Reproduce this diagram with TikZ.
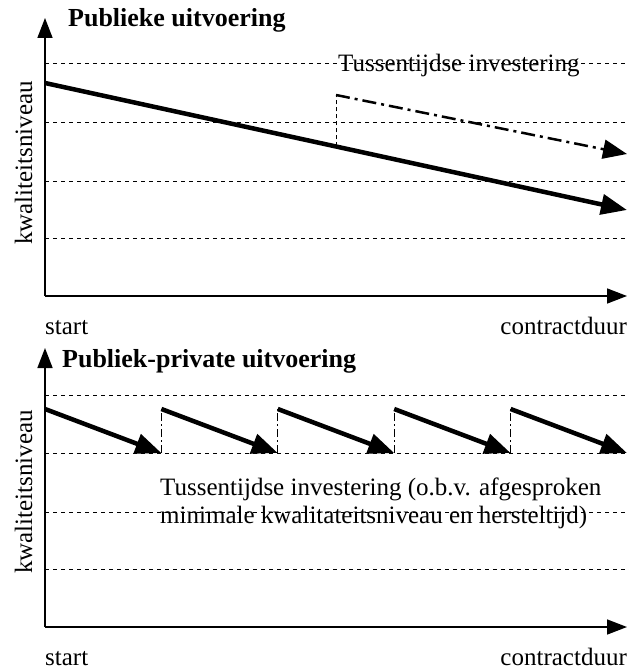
\documentclass[tikz,border=0pt]{standalone}
\usepackage{fontspec}
\setmainfont{Liberation Serif}
\usetikzlibrary{calc,arrows.meta}
\tikzset{
  axisline/.style={-{Triangle[length=20pt,width=15pt]}, line width=1.6pt},
  level/.style={dash pattern=on 4pt off 4pt, line width=0.8pt},
  decay/.style={-{Triangle[length=26pt,width=20pt]}, line width=4.5pt},
  altdecay/.style={-{Triangle[length=24pt,width=19pt]}, line width=2.5pt,
    dash pattern=on 14pt off 5pt on 3pt off 5pt},
  jump/.style={dash pattern=on 4pt off 3pt, line width=0.8pt},
  jumpdd/.style={dash pattern=on 8pt off 3pt on 2pt off 3pt, line width=0.8pt},
  lbl/.style={font=\fontsize{25}{28}\selectfont, inner sep=0pt},
  ttl/.style={lbl, font=\fontsize{26}{28}\selectfont\bfseries}
}

\begin{document}
\begin{tikzpicture}[x=1pt, y=-1pt]
  \useasboundingbox (0,0) rectangle (633,671);

  % top panel: publieke uitvoering
  \coordinate (o1) at (45,296);
  \coordinate (y1) at (45,18);
  \coordinate (x1) at (627,296);
  \foreach \y [count=\i] in {63,122,181,238} {
    \coordinate (tl\i) at (45,\y);
    \coordinate (tr\i) at (627,\y);
    \draw[level] (tl\i) -- (tr\i);
  }
  \draw[axisline] (o1) -- (y1);
  \draw[axisline] (o1) -- (x1);
  \node[ttl, anchor=base west] (title1) at (68,27) {Publieke uitvoering};
  \node[lbl, rotate=90, anchor=base] (ylab1) at (32,163) {kwaliteitsniveau};
  \node[lbl, anchor=base west] (start1) at (45,334) {start};
  \node[lbl, anchor=base east] (end1) at (627,334) {contractduur};

  \coordinate (m0) at (45,83);
  \coordinate (m1) at (627,210);
  \coordinate (mid) at ($(m0)!0.5!(m1)$);
  \coordinate (a0) at (336,95);
  \coordinate (a1) at (627,154);
  \draw[decay] (m0) -- (m1);
  \draw[jump] (mid) -- (a0);
  \draw[altdecay] (a0) -- (a1);
  \node[lbl, anchor=base west] (inv1) at (338,72) {Tussentijdse investering};

  % bottom panel: publiek-private uitvoering
  \coordinate (o2) at (45,627);
  \coordinate (y2) at (45,348);
  \coordinate (x2) at (627,627);
  \foreach \y [count=\i] in {395,453,512,569} {
    \coordinate (bl\i) at (45,\y);
    \coordinate (br\i) at (627,\y);
    \draw[level] (bl\i) -- (br\i);
  }
  \draw[axisline] (o2) -- (y2);
  \draw[axisline] (o2) -- (x2);
  \node[ttl, anchor=base west] (title2) at (62,367) {Publiek-private uitvoering};
  \node[lbl, rotate=90, anchor=base] (ylab2) at (32,492) {kwaliteitsniveau};
  \node[lbl, anchor=base west] (start2) at (45,665) {start};
  \node[lbl, anchor=base east] (end2) at (627,665) {contractduur};

  \foreach \i in {0,...,4} {
    \coordinate (s\i) at ({45+116.4*\i},409);
    \coordinate (e\i) at ({45+116.4*(\i+1)},453);
    \draw[decay] (s\i) -- (e\i);
  }
  \foreach \i [count=\j] in {0,...,3} {
    \draw[jumpdd] (e\i) -- (s\j);
  }
  \node[lbl, anchor=north west, align=left] (inv2) at (160,477.5)
    {Tussentijdse investering (o.b.v. afgesproken\\
     minimale kwalitateitsniveau en hersteltijd)};
\end{tikzpicture}
\end{document}
